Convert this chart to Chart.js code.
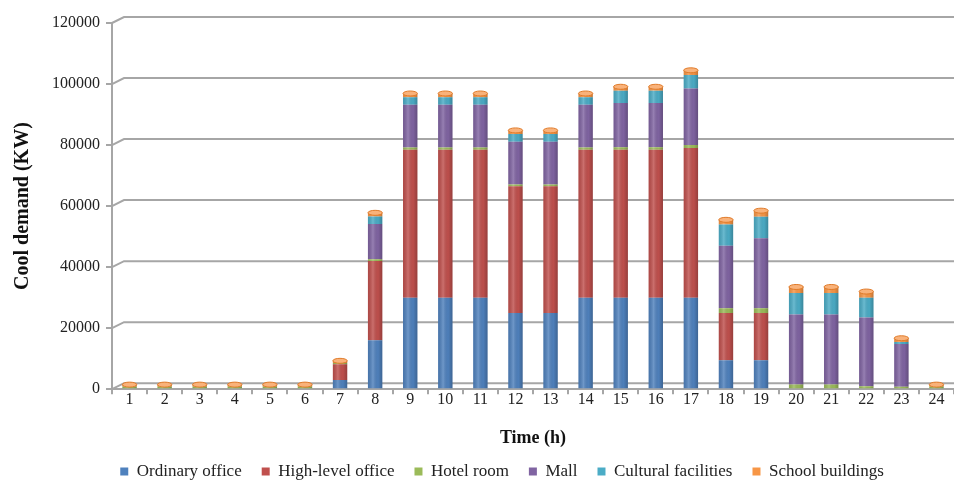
<!DOCTYPE html>
<html>
<head>
<meta charset="utf-8">
<script src="https://cdn.jsdelivr.net/npm/chart.js@4.4.1/dist/chart.umd.min.js"></script>
<style>
html,body{margin:0;padding:0;background:#fff;}
#wrap{width:954px;height:481px;position:relative;}
</style>
</head>
<body>
<div id="wrap"><canvas id="c" width="954" height="481"></canvas></div>
<script>
const hours = ["1","2","3","4","5","6","7","8","9","10","11","12","13","14","15","16","17","18","19","20","21","22","23","24"];
const ordinaryOffice = [0,0,0,0,0,0,3000,16000,30000,30000,30000,25000,25000,30000,30000,30000,30000,9500,9500,0,0,0,0,0];
const highLevelOffice = [0,0,0,0,0,0,5200,26000,48500,48500,48500,41500,41500,48500,48500,48500,49000,15500,15500,0,0,0,0,0];
const hotelRoom = [900,900,900,900,900,900,400,600,700,700,700,600,600,700,800,800,1000,1500,1500,1500,1500,1000,800,900];
const mall = [0,0,0,0,0,0,0,11500,14000,14000,14000,14000,14000,14000,14500,14500,18500,20500,23000,23000,23000,22500,14000,0];
const culturalFacilities = [0,0,0,0,0,0,0,2500,2500,2500,2500,2500,2500,2500,4000,4000,4500,7000,7000,7000,7000,6500,700,0];
const schoolBuildings = [600,600,600,600,600,600,700,1200,1200,1200,1200,1200,1200,1200,1300,1300,1500,1500,2000,2000,2000,2000,1200,600];
const yTicks = [0,20000,40000,60000,80000,100000,120000];

const seriesNames = ["Ordinary office","High-level office","Hotel room","Mall","Cultural facilities","School buildings"];
const seriesData = [ordinaryOffice, highLevelOffice, hotelRoom, mall, culturalFacilities, schoolBuildings];
const colors = ["#4F81BD","#C0504D","#9BBB59","#8064A2","#4BACC6","#F79646"];

const DX = 12, DY = 6;
const wallPlugin = {
  id: 'wall',
  beforeDatasetsDraw(chart) {
    const ctx = chart.ctx, ys = chart.scales.y, xs = chart.scales.x;
    ctx.save();
    ctx.strokeStyle = '#a6a6a6';
    ctx.lineWidth = 2;
    yTicks.forEach(v => {
      const y = ys.getPixelForValue(v);
      ctx.beginPath();
      ctx.moveTo(xs.left, y);
      ctx.lineTo(xs.left + DX, y - DY);
      ctx.lineTo(chart.width, y - DY);
      ctx.stroke();
    });
    ctx.restore();
  },
  afterDatasetsDraw(chart) {
    const ctx = chart.ctx;
    ctx.save();
    chart.data.datasets.forEach((ds, di) => {
      const meta = chart.getDatasetMeta(di);
      meta.data.forEach(el => {
        const p = el.getProps(['x','y','base','width'], true);
        const h = p.base - p.y;
        if (h <= 0.2) return;
        const l = p.x - p.width/2, r = p.x + p.width/2;
        const g = ctx.createLinearGradient(l, 0, r, 0);
        g.addColorStop(0, 'rgba(0,0,0,0.10)');
        g.addColorStop(0.35, 'rgba(255,255,255,0.18)');
        g.addColorStop(0.7, 'rgba(0,0,0,0.02)');
        g.addColorStop(1, 'rgba(0,0,0,0.22)');
        ctx.fillStyle = g;
        ctx.fillRect(l, p.y, p.width, h);
      });
    });
    const n = chart.data.labels.length;
    for (let i = 0; i < n; i++) {
      for (let di = chart.data.datasets.length - 1; di >= 0; di--) {
        if (chart.data.datasets[di].data[i] > 0) {
          const el = chart.getDatasetMeta(di).data[i];
          const p = el.getProps(['x','y','width'], true);
          ctx.beginPath();
          ctx.ellipse(p.x, p.y, p.width/2, 2.5, 0, 0, Math.PI*2);
          ctx.fillStyle = '#F9B27A';
          ctx.fill();
          ctx.strokeStyle = '#E07B2A';
          ctx.lineWidth = 1;
          ctx.stroke();
          break;
        }
      }
    }
    ctx.restore();
  }
};

new Chart(document.getElementById('c'), {
  type: 'bar',
  data: {
    labels: hours,
    datasets: seriesNames.map((n, i) => ({
      label: n,
      data: seriesData[i],
      backgroundColor: colors[i],
      borderWidth: 0,
      barPercentage: 0.41,
      categoryPercentage: 1.0
    }))
  },
  options: {
    responsive: false,
    animation: false,
    layout: { padding: { left: 44, right: -6, top: 23, bottom: -9 } },
    plugins: {
      legend: {
        position: 'bottom',
        labels: {
          font: { family: 'Liberation Serif', size: 17 },
          color: '#222',
          boxWidth: 8, boxHeight: 8,
          padding: 20
        }
      },
      tooltip: { enabled: false }
    },
    scales: {
      x: {
        stacked: true,
        grid: { display: true, drawOnChartArea: false, tickLength: 5, color: '#a6a6a6', lineWidth: 2, offset: true },
        border: { color: '#a6a6a6', width: 2 },
        ticks: { font: { family: 'Liberation Serif', size: 16 }, color: '#222', padding: -4, maxRotation: 0, autoSkip: false },
        title: { display: true, text: 'Time (h)', font: { family: 'Liberation Serif', size: 18, weight: 'bold' }, color: '#111', padding: { top: 22, bottom: -6 } }
      },
      y: {
        stacked: true,
        min: 0, max: 120000,
        afterBuildTicks(axis) { axis.ticks = yTicks.map(v => ({ value: v })); },
        grid: { display: true, drawOnChartArea: false, tickLength: 6, color: '#a6a6a6', lineWidth: 2 },
        border: { color: '#a6a6a6', width: 2 },
        ticks: { font: { family: 'Liberation Serif', size: 16 }, color: '#222', padding: 6, callback: v => String(v) },
        title: { display: true, text: 'Cool demand (KW)', font: { family: 'Liberation Serif', size: 20, weight: 'bold' }, color: '#111', padding: { top: -33, bottom: 11 } }
      }
    }
  },
  plugins: [wallPlugin]
});
</script>
</body>
</html>
